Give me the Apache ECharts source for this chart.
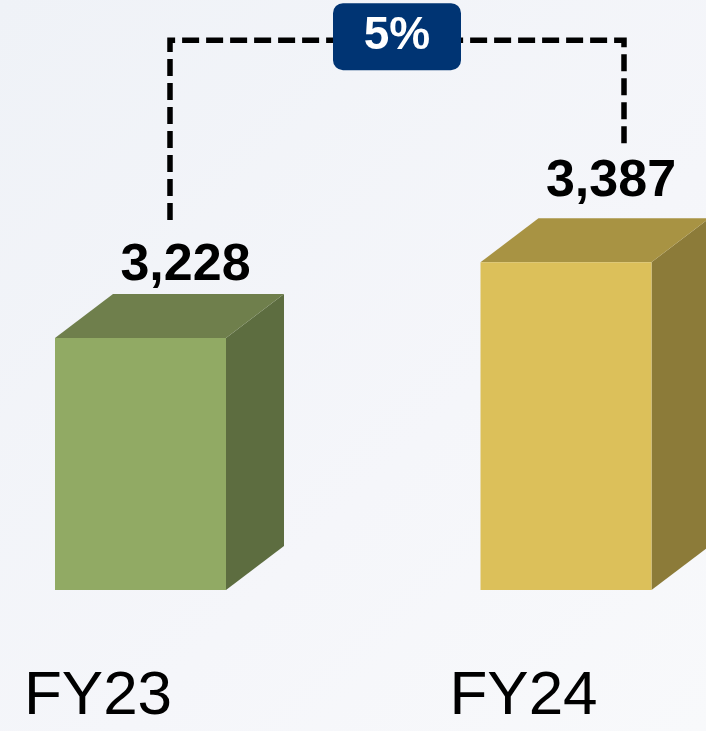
<!DOCTYPE html>
<html style="height: 100%">
<head>
  <meta charset="utf-8">
</head>
<body style="height: 100%; margin: 0;">
  <div id="container" style="width: 706px; height: 731px;"></div>
  <script type="text/javascript" src="https://cdn.jsdelivr.net/npm/echarts@6/dist/echarts.min.js"></script>
  <script type="text/javascript">
    // data
    var categories = ['FY23', 'FY24'];
    var values = [3228, 3387];
    var yMin = 2700;
    var yMax = 3900;

    // face colours per bar: front, top, side
    var frontColors = ['#91aa64', '#dcc05a'];
    var topColors = ['#6f7f4c', '#a89343'];
    var sideColors = ['#5d6d40', '#8c7b39'];

    var barW = 171;     // front face width
    var depthX = 58;    // 3d offset
    var depthY = 44;
    var shiftX = 42.5;  // bar front centre is right of the category label
    var labelDy = [-2, -10]; // value label gap above the top face

    var dom = document.getElementById('container');
    var myChart = echarts.init(dom, null, { renderer: 'canvas' });

    function fmt(v) {
      return v.toLocaleString('en-US');
    }

    function renderBar(params, api) {
      var idx = api.value(0);
      var top = api.coord([idx, api.value(1)]);
      var base = api.coord([idx, yMin]);
      var cx = top[0] + shiftX;
      var x0 = cx - barW / 2, x1 = cx + barW / 2;
      var yt = top[1], yb = base[1];
      return {
        type: 'group',
        children: [
          {
            type: 'polygon',
            shape: { points: [[x1, yb], [x1 + depthX, yb - depthY], [x1 + depthX, yt - depthY], [x1, yt]] },
            style: { fill: sideColors[idx] }
          },
          {
            type: 'polygon',
            shape: { points: [[x0, yt], [x0 + depthX, yt - depthY], [x1 + depthX, yt - depthY], [x1, yt]] },
            style: { fill: topColors[idx] }
          },
          {
            type: 'rect',
            shape: { x: x0, y: yt, width: barW, height: yb - yt },
            style: { fill: frontColors[idx] }
          },
          {
            type: 'text',
            x: cx + 45,
            y: yt - depthY + labelDy[idx],
            style: {
              text: fmt(api.value(1)),
              fill: '#000',
              font: 'bold 52px "Liberation Sans", Arial, sans-serif',
              align: 'center',
              verticalAlign: 'bottom'
            }
          }
        ]
      };
    }

    function renderBracket(params, api) {
      var a = api.coord([0, values[0]]);
      var b = api.coord([1, values[1]]);
      var lx = a[0] + shiftX + 29.5;
      var rx = b[0] + shiftX + 58;
      var ly = a[1] - 118;
      var ry = b[1] - 112;
      var ty = Math.min(a[1], b[1]) - 222;
      var mid = (lx + rx) / 2;
      var pct = Math.round((values[1] - values[0]) / values[0] * 100) + '%';
      return {
        type: 'group',
        children: [
          {
            type: 'polyline',
            shape: { points: [[lx, ly], [lx, ty], [rx, ty], [rx, ry]] },
            style: { stroke: '#000', lineWidth: 5.5, lineDash: [17, 7], fill: null }
          },
          {
            type: 'rect',
            shape: { x: mid - 64, y: ty - 37, width: 128, height: 67, r: 10 },
            style: { fill: '#003473' }
          },
          {
            type: 'text',
            x: mid,
            y: ty - 3.5,
            style: {
              text: pct,
              fill: '#fff',
              font: 'bold 46px "Liberation Sans", Arial, sans-serif',
              align: 'center',
              verticalAlign: 'middle'
            }
          }
        ]
      };
    }

    var option = {
      backgroundColor: {
        type: 'linear', x: 0, y: 0, x2: 1, y2: 1,
        colorStops: [
          { offset: 0, color: '#eff2f7' },
          { offset: 0.6, color: '#f5f6fa' },
          { offset: 1, color: '#f8f9fb' }
        ]
      },
      animation: false,
      grid: { left: 98, right: 182.5, top: 17.3, bottom: 141 },
      xAxis: {
        type: 'category',
        data: categories,
        boundaryGap: false,
        axisLine: { show: false },
        axisTick: { show: false },
        axisLabel: {
          margin: 76,
          color: '#000',
          fontSize: 62,
          fontFamily: '"Liberation Sans", Arial, sans-serif'
        }
      },
      yAxis: {
        type: 'value',
        min: yMin,
        max: yMax,
        show: false,
        splitLine: { show: false }
      },
      series: [
        {
          type: 'custom',
          renderItem: renderBar,
          data: values.map(function (v, i) { return [i, v]; })
        },
        {
          type: 'custom',
          renderItem: renderBracket,
          data: [[0, values[0]]],
          z: 3
        }
      ]
    };

    myChart.setOption(option);
    window.addEventListener('resize', myChart.resize);
  </script>
</body>
</html>
